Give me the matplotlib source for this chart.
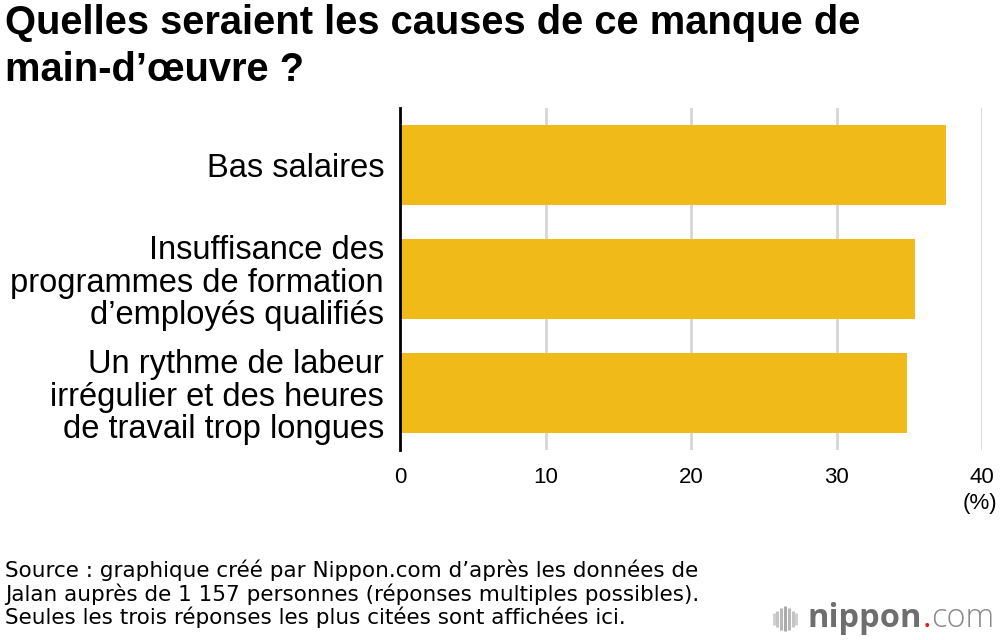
import matplotlib
matplotlib.use('Agg')
import matplotlib.pyplot as plt
from matplotlib.lines import Line2D
from matplotlib.transforms import offset_copy

# Chart data
categories = [
    'Bas salaires',
    'Insuffisance des\nprogrammes de formation\nd\u2019employés qualifiés',
    'Un rythme de labeur\nirrégulier et des heures\nde travail trop longues',
]
values = [37.5, 35.4, 34.8]
ticks = [0, 10, 20, 30, 40]

title = 'Quelles seraient les causes de ce manque de\nmain-d\u2019\u0153uvre ?'
source = ('Source : graphique créé par Nippon.com d\u2019après les données de\n'
          'Jalan auprès de 1 157 personnes (réponses multiples possibles).\n'
          'Seules les trois réponses les plus citées sont affichées ici.')

bar_color = '#F0BA18'
plt.rcParams['font.family'] = ['Liberation Sans', 'DejaVu Sans']

fig = plt.figure(figsize=(10, 6.4), dpi=100)
ax = fig.add_axes([0.4, 0.296875, 0.5823, 0.534375])

ypos = list(range(len(categories)))
ax.barh(ypos, values, height=0.70, color=bar_color, zorder=2)
ax.set_ylim(len(categories) - 0.5, -0.5)
ax.set_xlim(0, 40)

# Grid lines
for t in ticks[1:]:
    ax.axvline(t, color='#d6d6d6', lw=2, zorder=1)

ax.set_yticks(ypos)
ax.set_yticklabels(categories, fontsize=23.5, linespacing=1.06)
ax.set_xticks(ticks)
ax.set_xticklabels([str(t) for t in ticks], fontsize=16)
ax.tick_params(axis='y', length=0, pad=11.5)
ax.tick_params(axis='x', length=0, pad=12)
for side in ['top', 'right', 'bottom']:
    ax.spines[side].set_visible(False)
ax.spines['left'].set_linewidth(2)
ax.spines['left'].set_color('black')

fig.text(0.98, 0.214, '(%)', fontsize=16, ha='center', va='center')

fig.text(0.005, 0.994, title, fontsize=28.7, fontweight='bold', ha='left', va='top',
         linespacing=1.3)
fig.text(0.005, 0.018, source, fontsize=15.5, ha='left', va='bottom', linespacing=1.12,
         family='DejaVu Sans')

# nippon.com logo
icon_h = [0.014, 0.02, 0.026, 0.03, 0.026, 0.02, 0.014]
icon_c = ['#d0d0d0', '#c4c4c4', '#b8b8b8', '#aaaaaa', '#b8b8b8', '#c4c4c4', '#d0d0d0']
for i, (h, c) in enumerate(zip(icon_h, icon_c)):
    x = 0.7735 + i * 0.0038
    fig.add_artist(Line2D([x, x], [0.033 - h / 2 * 1.3, 0.033 + h / 2 * 1.3],
                          color=c, lw=2.2, solid_capstyle='butt'))

fig.canvas.draw()
renderer = fig.canvas.get_renderer()
t1 = fig.text(0.807, 0.0203, 'nippon', fontsize=23.5, fontweight='bold', color='#6e6e6e',
              ha='left', va='baseline', family='Open Sans')
w1 = t1.get_window_extent(renderer).width
t2 = fig.text(0.807, 0.0203, '.', fontsize=23.5, color='#e8141c', ha='left', va='baseline',
              family='Open Sans',
              transform=offset_copy(fig.transFigure, fig=fig, x=w1 + 1, units='dots'))
w2 = t2.get_window_extent(renderer).width
fig.text(0.807, 0.0203, 'com', fontsize=23.5, color='#8a8a8a', ha='left', va='baseline',
         family='Open Sans', fontweight='light',
         transform=offset_copy(fig.transFigure, fig=fig, x=w1 + w2 + 1, units='dots'))

fig.savefig('out.png', dpi=100)
